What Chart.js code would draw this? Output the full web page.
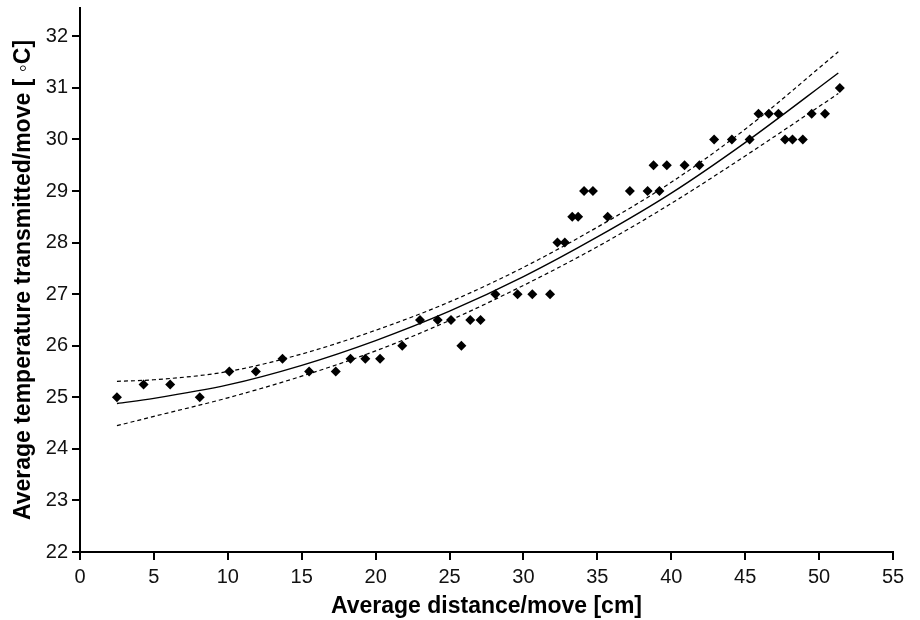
<!DOCTYPE html>
<html lang="en">
<head>
    <meta charset="UTF-8">
    <title>Temperature vs distance</title>
    <script src="https://cdn.jsdelivr.net/npm/chart.js"></script>
    <style>
        body {
            margin: 0;
            background: #fff;
        }
        .chart-box {
            width: 920px;
            height: 620px;
        }
    </style>
</head>
<body>
    <div class="chart-box">
        <canvas id="tempChart"></canvas>
    </div>

    <script>
        // measured points (diamonds)
        const distX = [2.5, 4.3, 6.1, 8.1, 10.1, 11.9, 13.7, 15.5, 17.3, 18.3, 19.3,
            20.3, 21.8, 23.0, 24.2, 25.1, 25.8, 26.4, 27.1, 28.1, 29.6, 30.6, 31.8,
            32.3, 32.8, 33.3, 33.7, 34.1, 34.7, 35.7, 37.2, 38.4, 38.8, 39.2, 39.7,
            40.9, 41.9, 42.9, 44.1, 45.3, 45.9, 46.6, 47.25, 47.7, 48.2, 48.9, 49.5,
            50.4, 51.4];
        const tempY = [25.0, 25.25, 25.25, 25.0, 25.5, 25.5, 25.75, 25.5, 25.5, 25.75, 25.75,
            25.75, 26.0, 26.5, 26.5, 26.5, 26.0, 26.5, 26.5, 27.0, 27.0, 27.0, 27.0,
            28.0, 28.0, 28.5, 28.5, 29.0, 29.0, 28.5, 29.0, 29.0, 29.5, 29.0, 29.5,
            29.5, 29.5, 30.0, 30.0, 30.0, 30.5, 30.5, 30.5, 30.0, 30.0, 30.0, 30.5,
            30.5, 31.0];

        // fitted curve and its confidence band
        const curveX = [2.5, 5, 10, 15, 20, 25, 30, 35, 40, 45, 51.3];
        const fitY = [24.88, 24.98, 25.24, 25.62, 26.10, 26.67, 27.34, 28.11, 28.96, 29.94, 31.29];
        const upperY = [25.31, 25.34, 25.50, 25.84, 26.30, 26.85, 27.52, 28.30, 29.17, 30.20, 31.70];
        const lowerY = [24.45, 24.63, 24.99, 25.41, 25.90, 26.49, 27.17, 27.92, 28.76, 29.68, 30.89];

        const xTicks = [0, 5, 10, 15, 20, 25, 30, 35, 40, 45, 50, 55];
        const yTicks = [22, 23, 24, 25, 26, 27, 28, 29, 30, 31, 32];

        const toPoints = (xs, ys) => xs.map((x, i) => ({ x: x, y: ys[i] }));

        const lineSet = (ys, dash) => ({
            data: toPoints(curveX, ys),
            showLine: true,
            borderColor: '#000',
            borderWidth: dash ? 1.2 : 1.4,
            borderDash: dash ? [4, 3] : [],
            cubicInterpolationMode: 'monotone',
            pointRadius: 0,
            fill: false
        });

        const tickFont = { family: 'Liberation Sans, Arial, sans-serif', size: 20 };
        const titleFont = { family: 'Liberation Sans, Arial, sans-serif', size: 23, weight: 'bold' };

        new Chart(document.getElementById('tempChart'), {
            type: 'scatter',
            data: {
                datasets: [
                    lineSet(upperY, true),
                    lineSet(lowerY, true),
                    lineSet(fitY, false),
                    {
                        data: toPoints(distX, tempY),
                        pointStyle: 'rectRot',
                        pointRadius: 5,
                        backgroundColor: '#000',
                        borderColor: '#000',
                        borderWidth: 0
                    }
                ]
            },
            options: {
                responsive: true,
                maintainAspectRatio: false,
                animation: false,
                layout: { padding: { top: 8, right: 27, left: 0, bottom: 0 } },
                plugins: { legend: { display: false }, tooltip: { enabled: false } },
                scales: {
                    x: {
                        type: 'linear',
                        min: 0,
                        max: 55,
                        afterBuildTicks: s => { s.ticks = xTicks.map(v => ({ value: v })); },
                        afterFit: s => { s.height = 68; },
                        border: { color: '#000', width: 2 },
                        grid: { drawOnChartArea: false, color: '#000', lineWidth: 2, tickLength: 8 },
                        ticks: { color: '#111', font: tickFont, padding: 5, maxRotation: 0 },
                        title: {
                            display: true,
                            text: 'Average distance/move [cm]',
                            color: '#000',
                            font: titleFont,
                            padding: { top: 0, bottom: 0 }
                        }
                    },
                    y: {
                        type: 'linear',
                        min: 22,
                        max: 32.55,
                        afterBuildTicks: s => { s.ticks = yTicks.map(v => ({ value: v })); },
                        afterFit: s => {
                            s.width = 80;
                            s.paddingTop = 0;
                            s.paddingBottom = 0;
                        },
                        border: { color: '#000', width: 2 },
                        grid: { drawOnChartArea: false, color: '#000', lineWidth: 2, tickLength: 8 },
                        ticks: { color: '#111', font: tickFont, padding: 4 },
                        title: {
                            display: true,
                            text: 'Average temperature transmitted/move [ \u25E6C]',
                            color: '#000',
                            font: titleFont,
                            padding: { top: 10, bottom: 0 }
                        }
                    }
                }
            }
        });
    </script>
</body>
</html>
